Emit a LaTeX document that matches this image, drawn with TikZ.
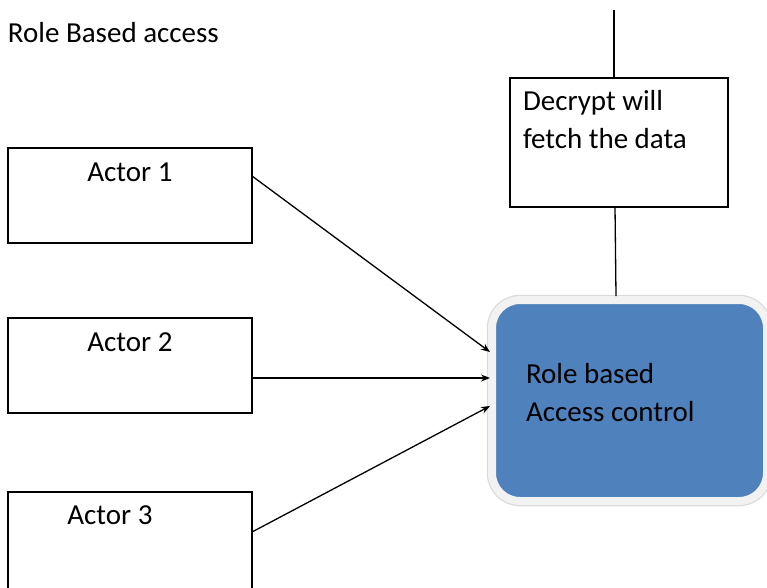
\documentclass[tikz,border=0pt]{standalone}
\usepackage{fontspec}
\setmainfont{Carlito}
\usetikzlibrary{calc,arrows.meta}
\definecolor{rbblue}{RGB}{79,129,189}
\definecolor{rbrim}{RGB}{242,242,242}
\begin{document}
\begin{tikzpicture}[x=1pt,y=-1pt,
  font=\fontsize{29}{38}\selectfont,
  boxline/.style={draw=black, line width=1.3pt},
  actorbox/.style={boxline, minimum width=244pt, minimum height=95pt, inner sep=0pt, outer sep=0pt, anchor=north west},
  conn/.style={line width=1.3pt},
  arr/.style={conn, -{Stealth[length=9pt,width=7pt]}},
  txt/.style={inner sep=0pt, outer sep=0pt}]
\useasboundingbox (0,0) rectangle (767,587);
\clip (0,0) rectangle (767,587);

\node[txt, anchor=base west] (title) at (8,42) {Role Based access};

\node[actorbox, label={[txt,anchor=base,yshift=-33pt]north:Actor 1}] (a1) at (8,148) {};
\node[actorbox, label={[txt,anchor=base,yshift=-33pt]north:Actor 2}] (a2) at (8,318) {};
\node[actorbox, minimum height=110pt, label={[txt,anchor=base,xshift=-20pt,yshift=-32pt]north:Actor 3}] (a3) at (8,492) {};

\node[boxline, minimum width=218pt, minimum height=129pt, anchor=north west, inner sep=0pt, outer sep=0pt,
  label={[txt, anchor=base west, xshift=13pt, yshift=-32pt]north west:{\parbox[t]{205pt}{Decrypt will\\fetch the data}}}] (dec) at (510,78) {};

\node[draw=rbrim, fill=rbblue, line width=8pt, rounded corners=28pt, minimum width=275pt, minimum height=201pt,
  inner sep=0pt, outer sep=0pt, preaction={draw=gray!28, line width=10.5pt},
  label={[txt, anchor=base west, xshift=34pt, yshift=17.5pt]west:{\parbox[t]{225pt}{Role based\\Access control}}}] (rbac) at (629.5,400.5) {};

\coordinate (top) at (614,10);
\draw[conn] (top) -- (dec.north -| top);
\draw[conn] ($(dec.south west)+(105,0)$) -- ($(rbac.north west)+(124,-4)$);

\draw[arr] ($(a1.north east)+(0,28)$) -- ($(rbac.west)+(-2,-48.5)$);
\draw[arr] ($(a2.north east)+(0,60)$) -- ($(rbac.west)+(-2,-22.5)$);
\draw[arr] ($(a3.north east)+(0,40)$) -- ($(rbac.west)+(-2,5.5)$);
\end{tikzpicture}
\end{document}
